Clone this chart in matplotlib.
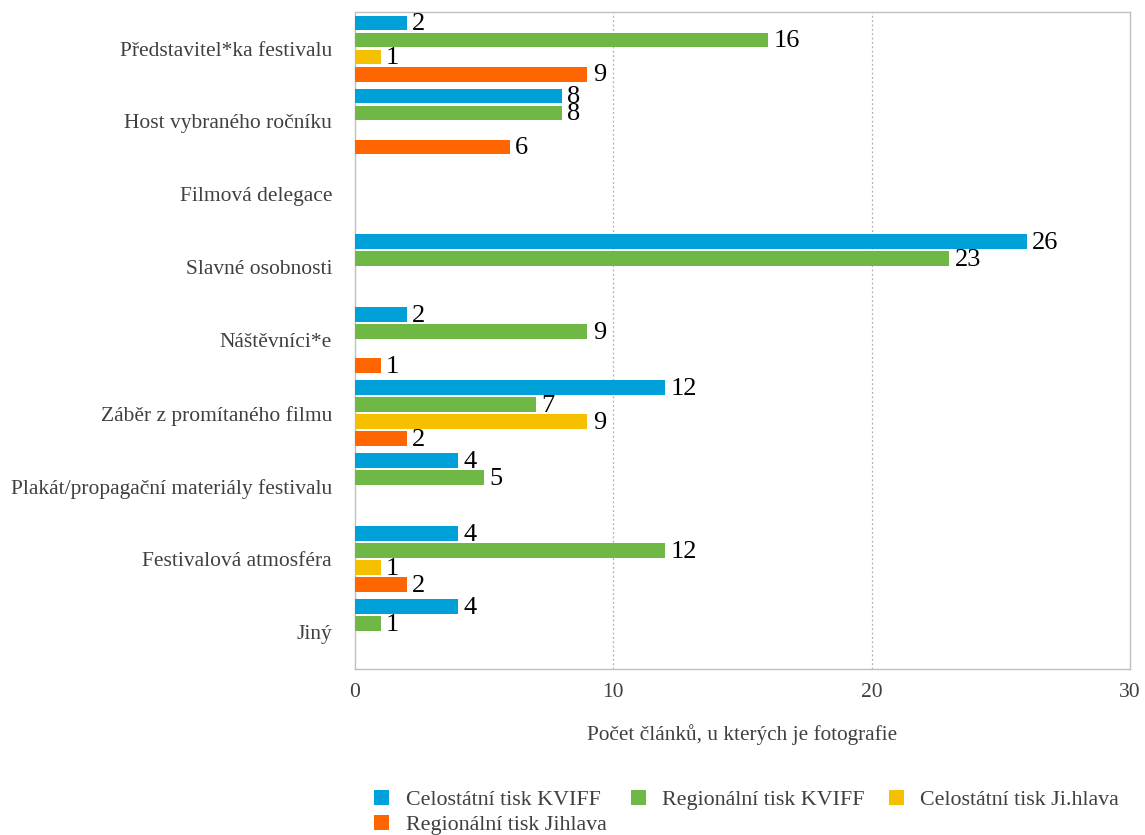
import numpy as np
import matplotlib
matplotlib.use("Agg")
import matplotlib.pyplot as plt
from matplotlib.patches import Patch

categories = [
    "Představitel*ka festivalu",
    "Host vybraného ročníku",
    "Filmová delegace",
    "Slavné osobnosti",
    "Náštěvníci*e",
    "Záběr z promítaného filmu",
    "Plakát/propagační materiály festivalu",
    "Festivalová atmosféra",
    "Jiný",
]
series_names = [
    "Celostátní tisk KVIFF",
    "Regionální tisk KVIFF",
    "Celostátní tisk Ji.hlava",
    "Regionální tisk Jihlava",
]
celostatni_kviff = [2, 8, 0, 26, 2, 12, 4, 4, 4]
regionalni_kviff = [16, 8, 0, 23, 9, 7, 5, 12, 1]
celostatni_jihlava = [1, 0, 0, 0, 0, 9, 0, 1, 0]
regionalni_jihlava = [9, 6, 0, 0, 1, 2, 0, 2, 0]
x_ticks = [0, 10, 20, 30]
x_label = "Počet článků, u kterých je fotografie"

colors = ["#00a0d8", "#6fb845", "#f5c000", "#ff6600"]
series = [celostatni_kviff, regionalni_kviff, celostatni_jihlava, regionalni_jihlava]

plt.rcParams["font.family"] = ["Liberation Serif", "DejaVu Serif"]
text_color = "#404040"
spine_color = "#bfbfbf"

fig = plt.figure(figsize=(11.45, 8.35), dpi=100)
ax = fig.add_axes([0.310, 0.199, 0.677, 0.7866])

y = np.arange(len(categories))
slot = 0.233
bar_h = 0.205
for i, (vals, col) in enumerate(zip(series, colors)):
    pos = y + (i - 1.5) * slot
    v = np.array(vals, dtype=float)
    ax.barh(pos, v, height=bar_h, color=col, zorder=3)
    for p, val in zip(pos, vals):
        if val > 0:
            ax.text(val + 0.2, p + 0.02, f"{val}", va="center", ha="left",
                    fontsize=19, color="black", zorder=4)

ax.set_xlim(0, 30)
ax.set_ylim(len(categories) - 0.5, -0.5)
ax.set_xticks(x_ticks)
ax.set_xticklabels([str(t) for t in x_ticks])
ax.set_yticks(y)
ax.set_yticklabels(categories)
ax.tick_params(axis="both", length=0, colors=text_color)
ax.tick_params(axis="y", pad=16.5, labelsize=15.5)
ax.tick_params(axis="x", pad=10, labelsize=15.5)

for s in ax.spines.values():
    s.set_color(spine_color)
    s.set_linewidth(1.0)

for gx in [10, 20]:
    ax.axvline(gx, color="#b0b0b0", linestyle=(0, (1.5, 2)), linewidth=0.9, zorder=1)

ax.set_xlabel(x_label, fontsize=15.3, color=text_color, labelpad=16)

handles = [Patch(facecolor=c, edgecolor="none") for c in colors]
order = [0, 3, 1, 2]
leg = fig.legend([handles[k] for k in order], [series_names[k] for k in order],
                 ncol=3, loc="upper left", bbox_to_anchor=(0.327, 0.054),
                 frameon=False, fontsize=15.8, handlelength=0.68, handleheight=0.68,
                 handletextpad=0.75, columnspacing=1.1, labelspacing=0.2,
                 borderaxespad=0, borderpad=0)
for t in leg.get_texts():
    t.set_color(text_color)

fig.savefig("out.png", dpi=100)
